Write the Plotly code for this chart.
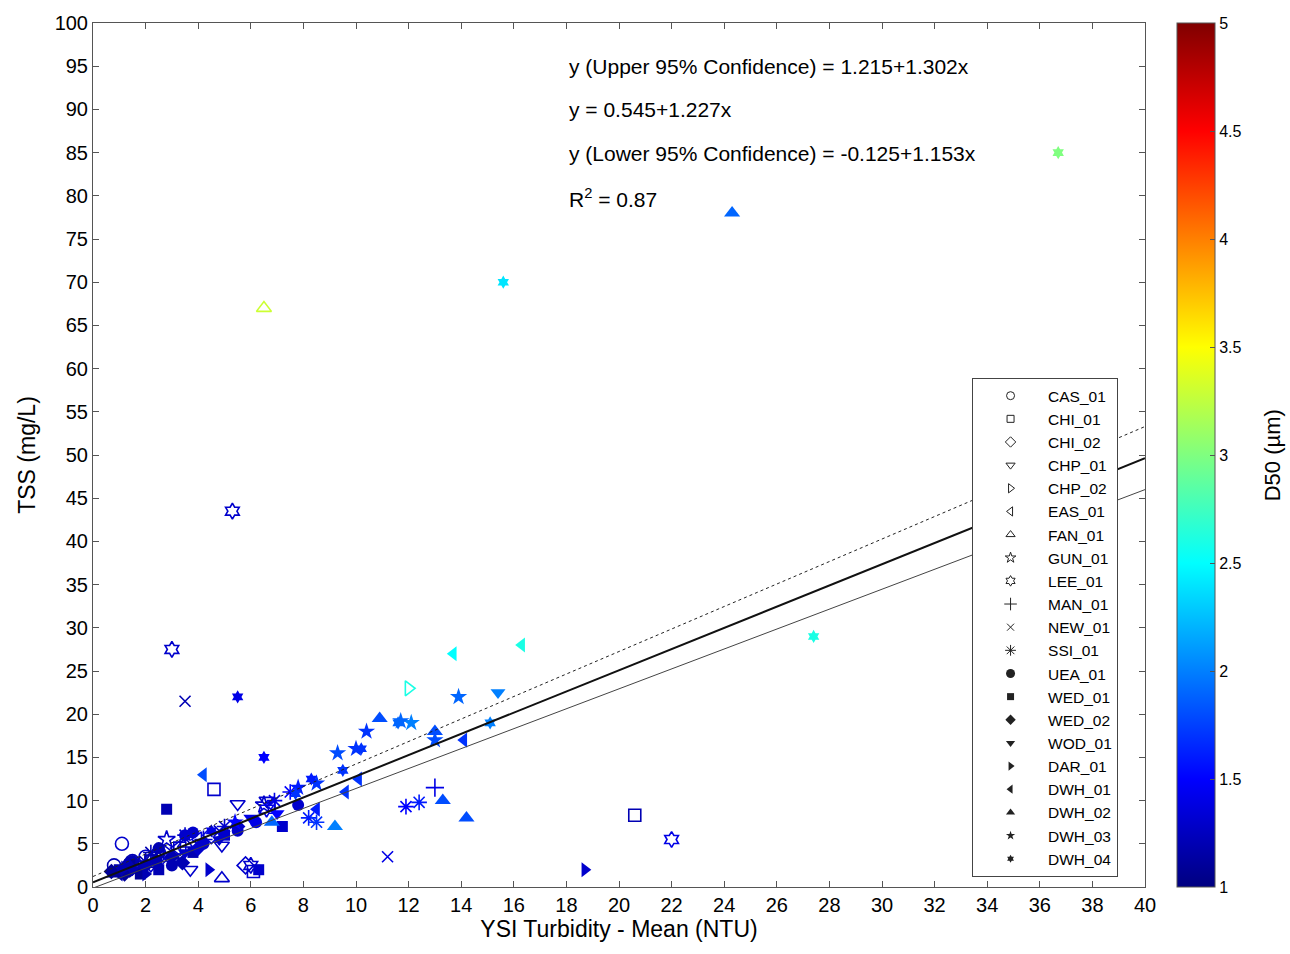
import plotly.graph_objects as go

# ---------------- data: (turbidity NTU, TSS mg/L, D50 um) per site ----------------
site_names = ["CAS_01", "CHI_01", "CHI_02", "CHP_01", "CHP_02", "EAS_01", "FAN_01",
              "GUN_01", "LEE_01", "MAN_01", "NEW_01", "SSI_01", "UEA_01", "WED_01",
              "WED_02", "WOD_01", "DAR_01", "DWH_01", "DWH_02", "DWH_03", "DWH_04"]

CAS_01 = [(1.1, 5.0, 1.3), (0.8, 2.5, 1.2), (1.5, 3.0, 1.2), (2.0, 3.5, 1.3), (2.5, 4.0, 1.3), (1.3, 2.0, 1.2)]
CHI_01 = [(4.6, 11.3, 1.3), (20.6, 8.3, 1.2), (6.1, 1.8, 1.3), (2.2, 3.0, 1.2), (3.3, 4.5, 1.3)]
CHI_02 = [(1.8, 2.5, 1.2), (2.6, 3.5, 1.3), (4.5, 6.0, 1.4), (5.8, 2.5, 1.3)]
CHP_01 = [(5.5, 9.6, 1.3), (6.6, 10.0, 1.3), (4.9, 4.8, 1.3), (3.7, 2.0, 1.3), (3.0, 3.0, 1.2), (2.2, 2.5, 1.3)]
CHP_02 = [(12.0, 23.0, 2.6), (1.5, 2.0, 1.2), (2.8, 4.0, 1.3)]
EAS_01 = [(3.2, 4.5, 1.3), (4.0, 5.5, 1.4), (6.8, 9.5, 1.4)]
FAN_01 = [(4.9, 1.0, 1.3), (6.5, 67.0, 3.3), (3.5, 5.0, 1.3), (2.3, 3.5, 1.2)]
GUN_01 = [(6.5, 9.5, 1.3), (2.8, 5.5, 1.3)]
LEE_01 = [(5.3, 43.5, 1.3), (3.0, 27.5, 1.3), (22.0, 5.5, 1.4), (6.0, 2.5, 1.3), (6.6, 9.0, 1.4)]
MAN_01 = [(13.0, 11.5, 1.4), (2.0, 3.0, 1.2), (4.2, 5.5, 1.3)]
NEW_01 = [(3.5, 21.5, 1.2), (11.2, 3.5, 1.4), (2.5, 4.0, 1.2), (4.8, 6.5, 1.3)]
SSI_01 = [(11.9, 9.3, 1.5), (12.4, 9.8, 1.6), (8.2, 8.0, 1.6), (8.5, 7.5, 1.7), (6.9, 10.0, 1.4),
          (3.5, 6.0, 1.3), (2.2, 4.0, 1.2), (5.0, 7.0, 1.3), (7.5, 11.0, 1.5)]
UEA_01 = [(7.8, 9.5, 1.3), (3.5, 6.0, 1.3), (2.5, 4.5, 1.2), (1.5, 3.0, 1.2), (4.2, 5.0, 1.3),
          (6.2, 7.5, 1.4), (5.5, 6.5, 1.3), (3.0, 2.5, 1.2), (3.8, 6.3, 1.3), (1.9, 2.2, 1.2)]
WED_01 = [(2.8, 9.0, 1.2), (6.3, 2.0, 1.3), (7.2, 7.0, 1.3), (1.0, 2.0, 1.2), (1.8, 1.5, 1.1),
          (2.5, 2.0, 1.2), (3.8, 4.0, 1.2), (5.0, 6.0, 1.3), (1.4, 2.6, 1.1)]
WED_02 = [(1.2, 1.5, 1.1), (2.0, 2.5, 1.2), (3.0, 3.5, 1.2), (4.0, 4.5, 1.3), (5.5, 7.0, 1.3),
          (0.7, 1.8, 1.1), (2.4, 3.0, 1.2), (3.4, 2.8, 1.2)]
WOD_01 = [(15.4, 22.5, 2.0), (3.5, 4.0, 1.3), (4.8, 5.5, 1.3), (1.5, 2.0, 1.2), (6.0, 8.0, 1.4), (7.0, 8.5, 1.5)]
DAR_01 = [(18.7, 2.0, 1.3), (4.4, 2.0, 1.3), (1.2, 2.2, 1.2), (2.0, 1.5, 1.2)]
DWH_01 = [(4.2, 13.0, 1.8), (13.7, 27.0, 2.5), (16.3, 28.0, 2.6), (14.1, 17.0, 1.7), (10.1, 12.5, 1.7),
          (8.5, 9.0, 1.6), (9.6, 11.0, 1.7), (1.0, 1.5, 1.2), (2.5, 3.0, 1.2)]
DWH_02 = [(24.3, 78.0, 1.9), (14.2, 8.0, 1.8), (13.3, 10.0, 1.8), (10.9, 19.5, 1.8), (9.2, 7.0, 2.0),
          (6.8, 7.5, 1.9), (13.0, 18.0, 1.8), (0.8, 1.5, 1.1), (1.3, 2.8, 1.2)]
DWH_03 = [(13.9, 22.0, 1.9), (12.1, 19.0, 2.0), (10.4, 18.0, 1.7), (13.0, 17.0, 1.8), (9.3, 15.5, 1.8),
          (8.5, 12.0, 1.7), (7.8, 11.5, 1.6), (5.4, 7.5, 1.5), (10.0, 16.0, 1.7), (11.7, 19.2, 1.9)]
DWH_04 = [(15.6, 70.0, 2.4), (36.7, 85.0, 3.0), (27.4, 29.0, 2.6), (5.5, 22.0, 1.4), (6.5, 15.0, 1.5),
          (15.1, 19.0, 2.0), (11.6, 19.0, 1.9), (10.2, 16.0, 1.7), (9.5, 13.5, 1.7), (8.3, 12.5, 1.6),
          (7.7, 10.8, 1.7), (4.5, 6.5, 1.4)]

site_points = [CAS_01, CHI_01, CHI_02, CHP_01, CHP_02, EAS_01, FAN_01, GUN_01, LEE_01, MAN_01, NEW_01,
               SSI_01, UEA_01, WED_01, WED_02, WOD_01, DAR_01, DWH_01, DWH_02, DWH_03, DWH_04]

# regression lines: intercept, slope
fit_labels = ["upper", "fit", "lower"]
fit_intercepts = [1.215, 0.545, -0.125]
fit_slopes = [1.302, 1.227, 1.153]
fit_x = [0, 40]

colorbar_ticks = [1, 1.5, 2, 2.5, 3, 3.5, 4, 4.5, 5]

# ---------------- styles ----------------
symbols = ["circle-open", "square-open", "diamond-open", "triangle-down-open", "triangle-right-open",
           "triangle-left-open", "triangle-up-open", "star-open", "hexagram-open", "cross-thin-open",
           "x-thin-open", "asterisk-open", "circle", "square", "diamond", "triangle-down",
           "triangle-right", "triangle-left", "triangle-up", "star", "hexagram"]
sizes = [13, 12, 13, 13, 13, 13, 13, 13, 12, 13, 11, 13, 12, 11, 12, 13, 13, 13, 14, 13, 10]
legend_sizes = [8, 7, 8, 8, 8, 8, 8, 8, 8, 9, 7, 9, 9, 7, 8, 8, 8, 8, 8, 7, 6]

jet = [[0.0, "rgb(0,0,128)"], [0.125, "rgb(0,0,255)"], [0.375, "rgb(0,255,255)"],
       [0.625, "rgb(255,255,0)"], [0.875, "rgb(255,0,0)"], [1.0, "rgb(128,0,0)"]]

FONT = "Liberation Sans, Arial, sans-serif"

fig = go.Figure()

for name, sym, sz, pts in zip(site_names, symbols, sizes, site_points):
    is_open = sym.endswith("-open")
    fig.add_trace(go.Scatter(
        x=[p[0] for p in pts], y=[p[1] for p in pts], mode="markers", name=name,
        showlegend=False,
        marker=dict(symbol=sym, size=sz, color=[p[2] for p in pts], coloraxis="coloraxis",
                    line=dict(width=1.6 if is_open else 0)),
    ))

line_styles = [dict(color="#222", width=1, dash="dot"),
               dict(color="#111", width=2),
               dict(color="#444", width=1)]
for lab, b0, b1, st in zip(fit_labels, fit_intercepts, fit_slopes, line_styles):
    fig.add_trace(go.Scatter(x=fit_x, y=[b0 + b1 * xx for xx in fit_x], mode="lines",
                             line=st, showlegend=False, hoverinfo="skip"))

for name, sym, lsz in zip(site_names, symbols, legend_sizes):
    is_open = sym.endswith("-open")
    fig.add_trace(go.Scatter(
        x=[None], y=[None], mode="markers", name=name,
        marker=dict(symbol=sym, size=lsz, color="#222",
                    line=dict(width=1 if is_open else 0, color="#222")),
    ))

ann_lines = ["y (Upper 95% Confidence) = 1.215+1.302x",
             "y = 0.545+1.227x",
             "y (Lower 95% Confidence) = -0.125+1.153x",
             "R<sup>2</sup> = 0.87"]
ann_y = [0.950, 0.900, 0.849, 0.797]
for txt, yy in zip(ann_lines, ann_y):
    fig.add_annotation(text=txt, x=0.4506, y=yy, xref="paper", yref="paper",
                       xanchor="left", yanchor="middle", showarrow=False,
                       font=dict(family=FONT, size=21, color="black"))

# colour-bar title
fig.add_annotation(text="D50 (µm)", x=1.121, y=0.5, xref="paper", yref="paper",
                   xanchor="center", yanchor="middle", textangle=-90, showarrow=False,
                   font=dict(family=FONT, size=22, color="black"))

axis_common = dict(showline=True, linecolor="#555", linewidth=1, mirror="ticks",
                   ticks="inside", ticklen=6, tickcolor="#555", showgrid=False,
                   zeroline=False, tickfont=dict(family=FONT, size=20, color="black"))

fig.update_layout(
    width=1290, height=954,
    margin=dict(l=93, r=145, t=20, b=67),
    paper_bgcolor="white", plot_bgcolor="white",
    font=dict(family=FONT, color="black"),
    xaxis=dict(range=[0, 40], dtick=2, tick0=0,
               title=dict(text="YSI Turbidity - Mean (NTU)", font=dict(family=FONT, size=23), standoff=2),
               **axis_common),
    yaxis=dict(range=[0, 100], dtick=5, tick0=0,
               title=dict(text="TSS (mg/L)", font=dict(family=FONT, size=23), standoff=12),
               **axis_common),
    coloraxis=dict(cmin=1, cmax=5, colorscale=jet,
                   colorbar=dict(x=1.030, xanchor="left", y=0.5, yanchor="middle",
                                 len=1, lenmode="fraction", thickness=38, xpad=0, ypad=0,
                                 outlinecolor="#555", outlinewidth=1,
                                 tickvals=colorbar_ticks, ticks="inside", ticklen=5, tickcolor="#555",
                                 tickfont=dict(family=FONT, size=16, color="black"))),
    legend=dict(x=0.8356, y=0.589, xanchor="left", yanchor="top",
                bgcolor="white", bordercolor="#444", borderwidth=1,
                font=dict(family=FONT, size=15.5, color="black"),
                tracegroupgap=0, itemwidth=65, entrywidth=155, entrywidthmode="pixels"),
)

fig.write_html("out.html")
